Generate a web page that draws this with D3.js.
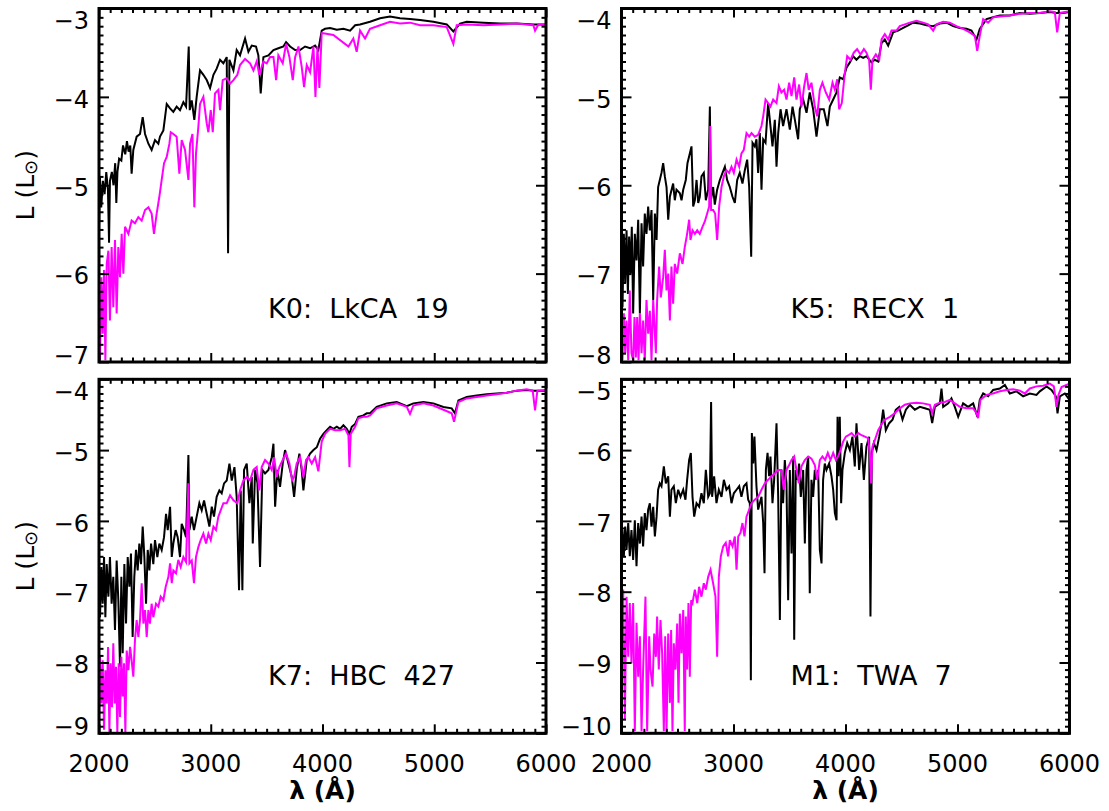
<!DOCTYPE html>
<html>
<head>
<meta charset="utf-8">
<script src="https://cdn.jsdelivr.net/npm/d3@7"></script>
<style>
  html, body { margin: 0; padding: 0; background: #fff; }
  svg { display: block; }
  text { font-family: "DejaVu Sans", sans-serif; fill: #000; }
</style>
</head>
<body>
<svg id="chart" width="1109" height="811"></svg>
<script>
// wavelength ticks (Angstrom), shared by all four panels
const xTicks = [2000, 3000, 4000, 5000, 6000]

// [wavelength, log L]; Obs = black, Model = magenta
const lkca19Obs = [[2000,-5.55],[2008,-4.9],[2020,-5.25],[2035,-4.95],[2050,-5.1],[2065,-4.85],[2080,-5.05],[2090,-5.65],[2098,-4.95],[2115,-4.85],[2130,-5.0],[2145,-4.75],[2155,-5.2],[2165,-4.85],[2180,-4.7],[2200,-4.72],[2215,-4.55],[2235,-4.65],[2250,-4.5],[2265,-4.62],[2280,-4.55],[2292,-4.87],[2307,-4.6],[2337,-4.45],[2367,-4.42],[2391,-4.23],[2412,-4.42],[2442,-4.53],[2471,-4.6],[2501,-4.49],[2531,-4.53],[2546,-4.45],[2576,-4.38],[2606,-4.08],[2636,-4.13],[2665,-4.17],[2695,-4.11],[2725,-4.15],[2755,-4.06],[2779,-4.11],[2803,-3.43],[2812,-4.15],[2830,-4.04],[2853,-4.26],[2874,-4.0],[2904,-3.7],[2934,-3.75],[2964,-3.81],[2994,-3.9],[3024,-3.75],[3053,-3.68],[3083,-3.58],[3113,-3.62],[3143,-3.55],[3155,-5.77],[3167,-3.58],[3203,-3.7],[3232,-3.47],[3262,-3.53],[3307,-3.34],[3337,-3.49],[3367,-3.42],[3405,-3.43],[3426,-3.53],[3447,-3.96],[3471,-3.55],[3516,-3.53],[3561,-3.47],[3605,-3.45],[3650,-3.43],[3674,-3.38],[3710,-3.43],[3755,-3.47],[3799,-3.47],[3844,-3.43],[3889,-3.45],[3934,-3.42],[3963,-3.47],[3993,-3.25],[4023,-3.23],[4068,-3.22],[4128,-3.24],[4187,-3.23],[4247,-3.25],[4292,-3.19],[4336,-3.18],[4425,-3.15],[4515,-3.11],[4604,-3.09],[4694,-3.11],[4783,-3.12],[4873,-3.13],[4992,-3.15],[5112,-3.18],[5171,-3.26],[5231,-3.17],[5291,-3.15],[5440,-3.16],[5589,-3.17],[5738,-3.17],[5887,-3.18],[6000,-3.18]]
const lkca19Model = [[2000,-6.49],[2009,-6.98],[2021,-6.04],[2033,-6.68],[2045,-5.96],[2057,-6.98],[2069,-5.89],[2084,-5.74],[2098,-6.53],[2113,-5.7],[2128,-6.38],[2143,-5.62],[2158,-6.45],[2173,-5.7],[2188,-6.04],[2203,-5.55],[2218,-6.0],[2233,-5.47],[2263,-5.55],[2292,-5.4],[2322,-5.43],[2352,-5.36],[2382,-5.4],[2412,-5.28],[2442,-5.25],[2471,-5.32],[2492,-5.55],[2516,-5.32],[2540,-5.13],[2561,-4.94],[2582,-4.75],[2606,-4.68],[2630,-4.53],[2642,-4.4],[2665,-4.42],[2695,-4.45],[2719,-4.87],[2740,-4.49],[2770,-4.6],[2800,-4.94],[2815,-4.53],[2836,-4.42],[2853,-5.25],[2868,-4.64],[2889,-4.34],[2904,-4.08],[2934,-4.0],[2964,-4.3],[2979,-4.4],[3000,-4.15],[3018,-4.4],[3038,-3.96],[3068,-3.92],[3083,-4.15],[3107,-3.81],[3143,-3.79],[3173,-3.85],[3203,-3.81],[3238,-3.75],[3262,-3.64],[3307,-3.57],[3352,-3.62],[3382,-3.7],[3411,-3.6],[3435,-3.75],[3471,-3.6],[3501,-3.62],[3531,-3.55],[3561,-3.55],[3585,-3.81],[3605,-3.53],[3644,-3.62],[3674,-3.4],[3704,-3.55],[3734,-3.81],[3755,-3.55],[3785,-3.43],[3814,-3.66],[3835,-3.89],[3859,-3.64],[3889,-3.72],[3919,-3.43],[3937,-4.0],[3955,-3.43],[3972,-3.9],[3993,-3.28],[4008,-3.28],[4097,-3.3],[4232,-3.43],[4276,-3.34],[4306,-3.49],[4336,-3.25],[4381,-3.34],[4425,-3.23],[4515,-3.19],[4604,-3.15],[4694,-3.17],[4783,-3.16],[4873,-3.19],[4992,-3.19],[5112,-3.21],[5171,-3.4],[5201,-3.19],[5291,-3.18],[5440,-3.19],[5589,-3.18],[5738,-3.17],[5887,-3.19],[5902,-3.25],[5932,-3.18],[6000,-3.18]]

const recx1Obs = [[2000,-6.55],[2009,-7.38],[2021,-6.55],[2033,-7.11],[2045,-6.51],[2057,-7.23],[2068,-6.58],[2080,-7.0],[2092,-6.47],[2104,-7.45],[2119,-6.55],[2134,-6.85],[2149,-6.39],[2164,-7.45],[2179,-6.43],[2193,-6.92],[2208,-6.32],[2223,-6.55],[2238,-6.24],[2253,-6.51],[2268,-6.28],[2283,-7.3],[2298,-6.32],[2313,-6.62],[2327,-6.02],[2342,-5.94],[2357,-5.86],[2372,-5.75],[2387,-5.9],[2402,-6.02],[2417,-6.39],[2432,-6.13],[2461,-5.98],[2476,-6.17],[2491,-6.05],[2521,-6.09],[2536,-6.17],[2551,-6.05],[2574,-5.94],[2589,-5.75],[2610,-5.64],[2625,-5.56],[2640,-6.24],[2655,-6.17],[2670,-5.94],[2685,-6.2],[2699,-6.13],[2714,-5.9],[2735,-5.86],[2753,-6.17],[2774,-6.05],[2789,-5.11],[2798,-6.17],[2818,-6.02],[2833,-6.22],[2854,-6.05],[2878,-5.94],[2902,-5.86],[2923,-5.79],[2943,-5.94],[2967,-6.02],[2991,-6.13],[3012,-6.2],[3033,-5.94],[3056,-5.86],[3080,-5.98],[3101,-5.83],[3122,-5.71],[3140,-6.02],[3158,-6.81],[3170,-5.52],[3190,-5.56],[3205,-5.48],[3220,-5.86],[3235,-5.41],[3250,-6.05],[3265,-5.48],[3286,-5.52],[3309,-5.07],[3330,-5.33],[3348,-5.56],[3369,-5.26],[3384,-5.79],[3399,-5.41],[3420,-5.14],[3443,-5.33],[3473,-5.14],[3503,-5.37],[3527,-5.11],[3548,-5.26],[3577,-5.48],[3592,-5.14],[3622,-5.03],[3652,-5.18],[3681,-4.95],[3711,-5.14],[3741,-5.45],[3771,-5.14],[3806,-5.14],[3839,-5.33],[3860,-5.11],[3890,-5.03],[3920,-4.95],[3949,-4.78],[3979,-4.8],[4009,-4.67],[4039,-4.61],[4068,-4.54],[4098,-4.58],[4128,-4.54],[4158,-4.56],[4187,-4.54],[4232,-4.61],[4262,-4.58],[4292,-4.6],[4322,-4.39],[4351,-4.35],[4381,-4.42],[4425,-4.27],[4470,-4.25],[4515,-4.22],[4559,-4.19],[4604,-4.16],[4664,-4.17],[4723,-4.19],[4783,-4.2],[4842,-4.17],[4902,-4.16],[4961,-4.2],[5021,-4.22],[5080,-4.23],[5125,-4.25],[5170,-4.35],[5199,-4.23],[5259,-4.12],[5318,-4.1],[5378,-4.08],[5467,-4.08],[5556,-4.05],[5646,-4.06],[5735,-4.05],[5824,-4.04],[5884,-4.05],[5943,-4.05],[6000,-4.04]]
const recx1Model = [[2000,-7.49],[2009,-7.98],[2021,-7.45],[2033,-7.9],[2045,-7.53],[2060,-7.98],[2074,-7.19],[2089,-7.9],[2104,-7.98],[2116,-7.49],[2128,-7.95],[2140,-7.49],[2152,-7.98],[2164,-7.45],[2179,-7.9],[2193,-7.53],[2208,-7.98],[2223,-7.3],[2238,-7.68],[2253,-7.42],[2268,-7.98],[2283,-7.3],[2307,-7.9],[2318,-7.3],[2336,-6.92],[2351,-7.27],[2372,-7.04],[2387,-6.73],[2402,-7.19],[2417,-7.0],[2432,-7.53],[2446,-6.92],[2461,-7.34],[2476,-6.89],[2497,-7.0],[2521,-6.77],[2545,-6.89],[2565,-6.7],[2586,-6.55],[2604,-6.39],[2616,-6.62],[2634,-6.51],[2655,-6.55],[2676,-6.51],[2699,-6.55],[2723,-6.47],[2744,-6.41],[2765,-6.32],[2783,-6.24],[2792,-5.33],[2800,-6.28],[2818,-6.28],[2836,-6.32],[2854,-6.62],[2872,-6.24],[2893,-6.02],[2914,-5.9],[2937,-5.83],[2961,-5.86],[2982,-5.79],[3003,-5.86],[3027,-5.71],[3051,-5.79],[3071,-5.64],[3092,-5.6],[3116,-5.41],[3140,-5.45],[3161,-5.41],[3190,-5.45],[3220,-5.43],[3250,-5.33],[3265,-5.22],[3286,-5.03],[3309,-5.07],[3330,-5.11],[3354,-5.03],[3384,-5.07],[3405,-4.88],[3428,-4.95],[3452,-4.92],[3473,-5.03],[3497,-4.84],[3518,-4.99],[3542,-4.78],[3562,-5.03],[3586,-4.86],[3607,-5.11],[3631,-4.88],[3652,-4.73],[3672,-4.92],[3696,-4.84],[3726,-5.11],[3747,-5.22],[3771,-4.92],[3794,-4.84],[3824,-4.95],[3854,-5.03],[3884,-4.84],[3905,-4.92],[3926,-4.8],[3943,-5.14],[3967,-5.07],[3994,-4.73],[4015,-4.54],[4045,-4.58],[4074,-4.5],[4104,-4.46],[4134,-4.52],[4164,-4.46],[4187,-4.5],[4211,-4.58],[4226,-4.92],[4241,-4.58],[4271,-4.52],[4301,-4.58],[4322,-4.35],[4351,-4.29],[4381,-4.35],[4411,-4.25],[4455,-4.25],[4485,-4.2],[4530,-4.18],[4574,-4.16],[4634,-4.14],[4693,-4.16],[4738,-4.18],[4783,-4.25],[4812,-4.18],[4872,-4.15],[4931,-4.16],[4991,-4.2],[5051,-4.23],[5110,-4.27],[5155,-4.31],[5176,-4.48],[5199,-4.31],[5229,-4.12],[5274,-4.16],[5318,-4.1],[5378,-4.09],[5467,-4.08],[5556,-4.06],[5646,-4.05],[5735,-4.05],[5824,-4.03],[5869,-4.04],[5890,-4.27],[5914,-4.05],[6000,-4.03]]

const hbc427Obs = [[2000,-6.51],[2009,-7.36],[2021,-6.65],[2033,-7.17],[2045,-6.51],[2057,-7.36],[2069,-6.61],[2084,-7.07],[2098,-6.51],[2113,-7.17],[2128,-6.79],[2143,-7.54],[2158,-6.56],[2173,-7.12],[2188,-8.06],[2200,-6.79],[2212,-7.87],[2227,-6.61],[2242,-7.45],[2257,-6.51],[2272,-6.93],[2286,-6.46],[2301,-7.64],[2316,-6.79],[2331,-6.41],[2346,-6.7],[2361,-6.32],[2376,-6.61],[2391,-6.08],[2406,-6.51],[2421,-7.17],[2436,-6.41],[2451,-6.7],[2466,-6.32],[2486,-6.61],[2501,-6.27],[2522,-6.51],[2540,-6.32],[2561,-6.41],[2582,-6.23],[2600,-5.9],[2615,-6.13],[2636,-5.8],[2651,-6.51],[2665,-6.32],[2686,-6.13],[2704,-6.23],[2725,-6.51],[2740,-6.04],[2761,-6.13],[2779,-6.23],[2800,-5.07],[2809,-6.13],[2830,-5.94],[2850,-6.13],[2874,-5.94],[2898,-5.75],[2919,-5.85],[2940,-5.71],[2964,-5.9],[2988,-6.08],[3009,-5.8],[3029,-5.94],[3053,-5.66],[3077,-5.57],[3098,-5.61],[3119,-5.47],[3143,-5.43],[3167,-5.19],[3188,-5.43],[3212,-5.24],[3232,-5.66],[3253,-6.98],[3268,-5.57],[3283,-6.98],[3298,-5.28],[3322,-5.19],[3346,-5.75],[3367,-5.38],[3376,-6.32],[3397,-5.28],[3418,-5.47],[3441,-6.65],[3462,-5.28],[3486,-5.33],[3516,-5.28],[3546,-5.1],[3561,-4.91],[3576,-5.8],[3596,-5.28],[3620,-5.52],[3644,-5.19],[3665,-5.0],[3695,-5.19],[3725,-5.38],[3746,-5.66],[3769,-5.28],[3793,-5.05],[3814,-5.28],[3829,-5.57],[3859,-5.14],[3889,-5.05],[3919,-5.0],[3949,-4.96],[3978,-4.84],[4008,-4.77],[4038,-4.72],[4068,-4.67],[4098,-4.7],[4128,-4.67],[4157,-4.7],[4187,-4.65],[4217,-4.7],[4241,-4.77],[4262,-4.67],[4292,-4.63],[4321,-4.53],[4366,-4.51],[4396,-4.48],[4426,-4.48],[4485,-4.39],[4575,-4.34],[4664,-4.32],[4754,-4.38],[4813,-4.34],[4903,-4.32],[4992,-4.34],[5082,-4.39],[5156,-4.41],[5186,-4.48],[5216,-4.3],[5291,-4.25],[5380,-4.23],[5470,-4.21],[5559,-4.2],[5648,-4.19],[5738,-4.16],[5827,-4.15],[5887,-4.16],[6000,-4.16]]
const hbc427Model = [[2000,-8.98],[2009,-7.92],[2021,-8.58],[2033,-7.97],[2045,-8.95],[2057,-8.11],[2069,-8.58],[2081,-7.78],[2093,-8.98],[2104,-8.01],[2116,-8.63],[2128,-7.73],[2140,-8.58],[2152,-8.06],[2164,-8.98],[2176,-8.01],[2188,-8.77],[2200,-7.92],[2212,-8.48],[2224,-8.01],[2236,-8.98],[2248,-7.83],[2263,-8.11],[2278,-7.78],[2292,-7.97],[2307,-8.2],[2322,-7.68],[2337,-7.4],[2352,-7.64],[2367,-7.4],[2382,-6.88],[2397,-7.45],[2412,-7.26],[2427,-7.64],[2442,-7.26],[2456,-7.45],[2471,-7.17],[2486,-7.36],[2510,-7.17],[2531,-7.21],[2552,-7.07],[2576,-7.12],[2597,-6.93],[2621,-6.79],[2636,-6.6],[2651,-6.88],[2665,-6.7],[2689,-6.74],[2710,-6.55],[2731,-6.65],[2755,-6.51],[2779,-6.58],[2800,-5.47],[2809,-6.6],[2830,-6.56],[2850,-6.88],[2868,-6.51],[2889,-6.37],[2910,-6.27],[2934,-6.18],[2958,-6.32],[2979,-6.18],[3000,-6.27],[3024,-6.08],[3047,-6.13],[3068,-5.94],[3089,-5.85],[3113,-5.75],[3143,-5.75],[3173,-5.64],[3203,-5.71],[3238,-5.75],[3262,-5.57],[3292,-5.43],[3322,-5.38],[3352,-5.43],[3382,-5.28],[3411,-5.24],[3435,-5.57],[3456,-5.24],[3486,-5.14],[3516,-5.19],[3546,-5.28],[3567,-5.1],[3590,-5.38],[3614,-5.24],[3644,-5.14],[3674,-5.05],[3704,-5.19],[3728,-5.43],[3746,-5.38],[3769,-5.19],[3799,-5.1],[3829,-5.38],[3853,-5.14],[3874,-5.1],[3904,-5.19],[3934,-5.1],[3963,-5.3],[3993,-4.88],[4023,-4.77],[4068,-4.7],[4113,-4.72],[4157,-4.72],[4202,-4.7],[4232,-4.79],[4241,-5.24],[4253,-4.77],[4292,-4.67],[4321,-4.55],[4366,-4.53],[4396,-4.53],[4426,-4.51],[4485,-4.41],[4575,-4.37],[4664,-4.34],[4754,-4.39],[4783,-4.49],[4813,-4.37],[4903,-4.34],[4992,-4.37],[5082,-4.43],[5156,-4.48],[5177,-4.6],[5216,-4.32],[5291,-4.27],[5380,-4.25],[5470,-4.23],[5559,-4.21],[5648,-4.19],[5738,-4.16],[5827,-4.14],[5881,-4.16],[5902,-4.44],[5923,-4.16],[6000,-4.15]]

const twa7Obs = [[2000,-7.69],[2009,-7.13],[2021,-7.5],[2033,-7.08],[2045,-7.41],[2060,-7.03],[2074,-7.5],[2089,-7.13],[2104,-7.55],[2119,-6.99],[2134,-7.64],[2149,-7.03],[2164,-7.32],[2179,-6.94],[2193,-7.36],[2208,-6.89],[2223,-7.13],[2238,-6.84],[2253,-6.75],[2268,-7.08],[2283,-6.8],[2298,-7.22],[2313,-6.94],[2327,-6.56],[2342,-6.47],[2357,-6.51],[2378,-6.23],[2396,-6.47],[2417,-6.37],[2432,-6.94],[2446,-6.56],[2467,-6.51],[2485,-6.75],[2506,-6.56],[2527,-6.66],[2551,-6.56],[2571,-6.7],[2586,-6.42],[2604,-6.14],[2619,-6.04],[2634,-6.66],[2649,-6.94],[2670,-6.75],[2693,-6.8],[2714,-6.61],[2735,-6.75],[2753,-6.28],[2774,-6.66],[2789,-6.61],[2800,-5.32],[2809,-6.66],[2827,-6.37],[2848,-6.75],[2869,-6.56],[2893,-6.66],[2914,-6.42],[2937,-6.56],[2961,-6.51],[2982,-6.75],[3003,-6.61],[3027,-6.56],[3051,-6.51],[3071,-6.66],[3092,-6.51],[3116,-6.47],[3131,-6.7],[3146,-6.75],[3155,-9.25],[3164,-5.76],[3176,-6.19],[3187,-5.81],[3205,-6.51],[3220,-6.84],[3235,-6.75],[3250,-6.66],[3265,-7.03],[3277,-7.74],[3289,-6.28],[3304,-6.04],[3318,-6.37],[3330,-6.09],[3348,-6.75],[3363,-6.42],[3384,-5.62],[3399,-6.66],[3414,-8.4],[3428,-6.28],[3443,-6.75],[3458,-6.14],[3473,-6.47],[3488,-8.12],[3503,-6.28],[3518,-7.46],[3533,-6.09],[3542,-8.68],[3556,-6.28],[3571,-6.42],[3586,-6.19],[3601,-6.66],[3622,-6.28],[3637,-7.32],[3652,-6.28],[3667,-6.09],[3681,-8.02],[3696,-6.42],[3711,-6.66],[3726,-6.28],[3741,-6.42],[3756,-6.28],[3771,-7.41],[3786,-7.6],[3800,-6.42],[3815,-6.19],[3830,-6.28],[3854,-6.19],[3875,-6.37],[3890,-6.56],[3905,-6.89],[3920,-6.99],[3929,-5.53],[3937,-6.37],[3949,-5.53],[3961,-6.75],[3973,-6.28],[3994,-6.04],[4015,-5.9],[4039,-6.0],[4062,-5.81],[4083,-6.23],[4098,-5.62],[4122,-6.28],[4143,-5.9],[4164,-6.42],[4187,-5.95],[4211,-5.81],[4223,-8.35],[4235,-6.04],[4253,-5.9],[4277,-6.0],[4301,-5.81],[4321,-5.62],[4336,-5.43],[4360,-5.72],[4390,-5.62],[4420,-5.57],[4449,-5.43],[4479,-5.39],[4509,-5.57],[4539,-5.43],[4574,-5.36],[4619,-5.43],[4664,-5.39],[4708,-5.41],[4753,-5.43],[4774,-5.62],[4798,-5.39],[4842,-5.34],[4857,-5.13],[4872,-5.39],[4917,-5.34],[4946,-5.27],[4976,-5.39],[5006,-5.53],[5050,-5.34],[5095,-5.39],[5140,-5.34],[5178,-5.53],[5199,-5.29],[5229,-5.2],[5274,-5.24],[5318,-5.15],[5378,-5.13],[5423,-5.08],[5467,-5.2],[5527,-5.17],[5586,-5.24],[5646,-5.2],[5705,-5.22],[5735,-5.17],[5795,-5.1],[5839,-5.15],[5878,-5.24],[5893,-5.48],[5914,-5.24],[5958,-5.2],[6000,-5.29]]
const twa7Model = [[2000,-8.16],[2015,-7.97],[2030,-9.81],[2045,-8.07],[2060,-8.92],[2074,-8.16],[2089,-9.01],[2104,-8.16],[2119,-9.97],[2134,-8.44],[2149,-9.2],[2164,-8.63],[2179,-9.97],[2193,-9.1],[2214,-8.07],[2229,-9.97],[2247,-8.63],[2259,-9.1],[2277,-9.34],[2292,-8.59],[2307,-8.92],[2318,-8.35],[2333,-9.1],[2348,-8.4],[2363,-8.87],[2378,-9.97],[2390,-8.63],[2402,-9.97],[2417,-8.59],[2432,-9.57],[2443,-8.54],[2455,-9.97],[2467,-8.73],[2482,-9.1],[2497,-8.45],[2509,-9.57],[2521,-8.31],[2536,-8.87],[2551,-8.26],[2565,-9.97],[2574,-8.35],[2586,-9.1],[2598,-8.16],[2610,-9.2],[2622,-8.12],[2634,-8.16],[2655,-7.97],[2676,-8.16],[2693,-7.93],[2714,-8.07],[2735,-7.88],[2753,-7.97],[2774,-7.79],[2795,-7.69],[2818,-7.88],[2839,-8.07],[2854,-8.92],[2869,-7.79],[2887,-7.5],[2908,-7.36],[2931,-7.31],[2952,-7.5],[2967,-7.27],[2991,-7.36],[3012,-7.22],[3027,-7.69],[3042,-7.22],[3062,-7.17],[3080,-7.03],[3098,-7.22],[3116,-6.94],[3140,-6.84],[3161,-6.75],[3190,-6.7],[3220,-6.66],[3250,-6.56],[3280,-6.47],[3309,-6.42],[3339,-6.37],[3369,-6.33],[3399,-6.28],[3428,-6.28],[3449,-6.56],[3473,-6.28],[3497,-6.21],[3518,-6.14],[3542,-6.09],[3562,-6.28],[3583,-6.47],[3607,-6.23],[3637,-6.14],[3667,-6.09],[3696,-6.12],[3726,-6.21],[3747,-6.42],[3771,-6.14],[3794,-6.09],[3818,-6.14],[3842,-6.04],[3866,-6.14],[3890,-6.04],[3914,-6.14],[3934,-6.09],[3955,-6.0],[3979,-5.88],[4003,-5.81],[4027,-5.79],[4054,-5.76],[4083,-5.81],[4113,-5.76],[4143,-5.79],[4173,-5.81],[4202,-5.83],[4217,-6.04],[4229,-6.47],[4241,-5.95],[4262,-5.86],[4292,-5.72],[4321,-5.64],[4351,-5.57],[4396,-5.53],[4440,-5.48],[4485,-5.41],[4530,-5.36],[4574,-5.34],[4634,-5.33],[4693,-5.34],[4753,-5.36],[4774,-5.48],[4798,-5.36],[4842,-5.33],[4887,-5.32],[4932,-5.29],[4976,-5.34],[5021,-5.39],[5080,-5.41],[5140,-5.41],[5170,-5.48],[5184,-5.55],[5205,-5.29],[5259,-5.22],[5318,-5.2],[5378,-5.17],[5437,-5.15],[5497,-5.14],[5556,-5.16],[5601,-5.2],[5646,-5.13],[5705,-5.1],[5765,-5.09],[5824,-5.06],[5860,-5.1],[5884,-5.39],[5902,-5.22],[5929,-5.11],[6000,-5.06]]

// panel table built from the arrays above
const panels = [
  { label: 'K0:  LkCA  19', obs: lkca19Obs, model: lkca19Model, yDomain: [-7, -3], col: 0, row: 0 },
  { label: 'K5:  RECX  1', obs: recx1Obs, model: recx1Model, yDomain: [-8, -4], col: 1, row: 0 },
  { label: 'K7:  HBC  427', obs: hbc427Obs, model: hbc427Model, yDomain: [-9, -4], col: 0, row: 1 },
  { label: 'M1:  TWA  7', obs: twa7Obs, model: twa7Model, yDomain: [-10, -5], col: 1, row: 1 }
]

const colX = [[99, 546], [621.5, 1069.5]]
const rowY = [[8.5, 362], [379.3, 733.3]]
const labelBase = [318, 685]

const svg = d3.select('#chart')
const fmt = v => (v < 0 ? '\u2212' + Math.abs(v) : '' + v)

panels.forEach((p, i) => {
  const [x0, x1] = colX[p.col]
  const [y0, y1] = rowY[p.row]
  const x = d3.scaleLinear().domain([2000, 6000]).range([x0, x1])
  const y = d3.scaleLinear().domain(p.yDomain).range([y1, y0])
  const g = svg.append('g')

  g.append('clipPath').attr('id', 'clip' + i)
    .append('rect').attr('x', x0).attr('y', y0).attr('width', x1 - x0).attr('height', y1 - y0)

  const line = d3.line().x(d => x(d[0])).y(d => y(d[1]))
  const plot = g.append('g').attr('clip-path', `url(#clip${i})`)
  plot.append('path').datum(p.obs).attr('d', line)
    .attr('fill', 'none').attr('stroke', '#000').attr('stroke-width', 2)
  plot.append('path').datum(p.model).attr('d', line)
    .attr('fill', 'none').attr('stroke', '#ff00ff').attr('stroke-width', 2)

  // ticks, all pointing inward
  const xMinor = d3.range(2000, 6001, 100).filter(v => v % 1000 !== 0)
  const yMajor = d3.range(p.yDomain[0], p.yDomain[1] + 1)
  const yMinor = d3.range(p.yDomain[0] * 10, p.yDomain[1] * 10 + 1).filter(v => v % 10 !== 0).map(v => v / 10)
  const axes = [
    [d3.axisBottom(x).tickValues(xTicks).tickSize(-9), `translate(0,${y1})`],
    [d3.axisBottom(x).tickValues(xMinor).tickSize(-4.5), `translate(0,${y1})`],
    [d3.axisTop(x).tickValues(xTicks).tickSize(-9), `translate(0,${y0})`],
    [d3.axisTop(x).tickValues(xMinor).tickSize(-4.5), `translate(0,${y0})`],
    [d3.axisLeft(y).tickValues(yMajor).tickSize(-10), `translate(${x0},0)`],
    [d3.axisLeft(y).tickValues(yMinor).tickSize(-4.5), `translate(${x0},0)`],
    [d3.axisRight(y).tickValues(yMajor).tickSize(-10), `translate(${x1},0)`],
    [d3.axisRight(y).tickValues(yMinor).tickSize(-4.5), `translate(${x1},0)`]
  ]
  axes.forEach(([ax, tr]) => {
    const a = g.append('g').attr('transform', tr).call(ax.tickFormat(() => ''))
    a.select('.domain').remove()
    a.selectAll('line').attr('stroke', '#000').attr('stroke-width', 2)
  })

  g.append('rect').attr('x', x0).attr('y', y0).attr('width', x1 - x0).attr('height', y1 - y0)
    .attr('fill', 'none').attr('stroke', '#000').attr('stroke-width', 3)

  // y tick labels, kept inside the frame height like the original
  g.selectAll('.ylab').data(yMajor).enter().append('text')
    .attr('x', x0 - 10)
    .attr('y', d => Math.min(Math.max(y(d) + 2, y0 + 12), y1 - 7))
    .attr('dy', '0.36em')
    .attr('text-anchor', 'end')
    .attr('font-size', 24)
    .text(fmt)

  if (p.row === 1) {
    g.selectAll('.xlab').data(xTicks).enter().append('text')
      .attr('x', d => x(d)).attr('y', 772)
      .attr('text-anchor', 'middle').attr('font-size', 24)
      .text(d => d)
    g.append('text').attr('x', (x0 + x1) / 2).attr('y', 799)
      .attr('text-anchor', 'middle').attr('font-size', 25).attr('font-weight', 'bold')
      .text('\u03bb (\u00c5)')
  }

  if (p.col === 0) {
    const t = g.append('text')
      .attr('transform', `translate(34,${(y0 + y1) / 2}) rotate(-90)`)
      .attr('text-anchor', 'middle').attr('font-size', 25)
    t.append('tspan').text('L (L')
    t.append('tspan').attr('font-size', 18).attr('dy', 3).text('\u2299')
    t.append('tspan').attr('dy', -3).text(')')
  }

  g.append('text').attr('x', x0 + 169).attr('y', labelBase[p.row])
    .attr('font-size', 27).style('white-space', 'pre')
    .text(p.label)
})
</script>
</body>
</html>
